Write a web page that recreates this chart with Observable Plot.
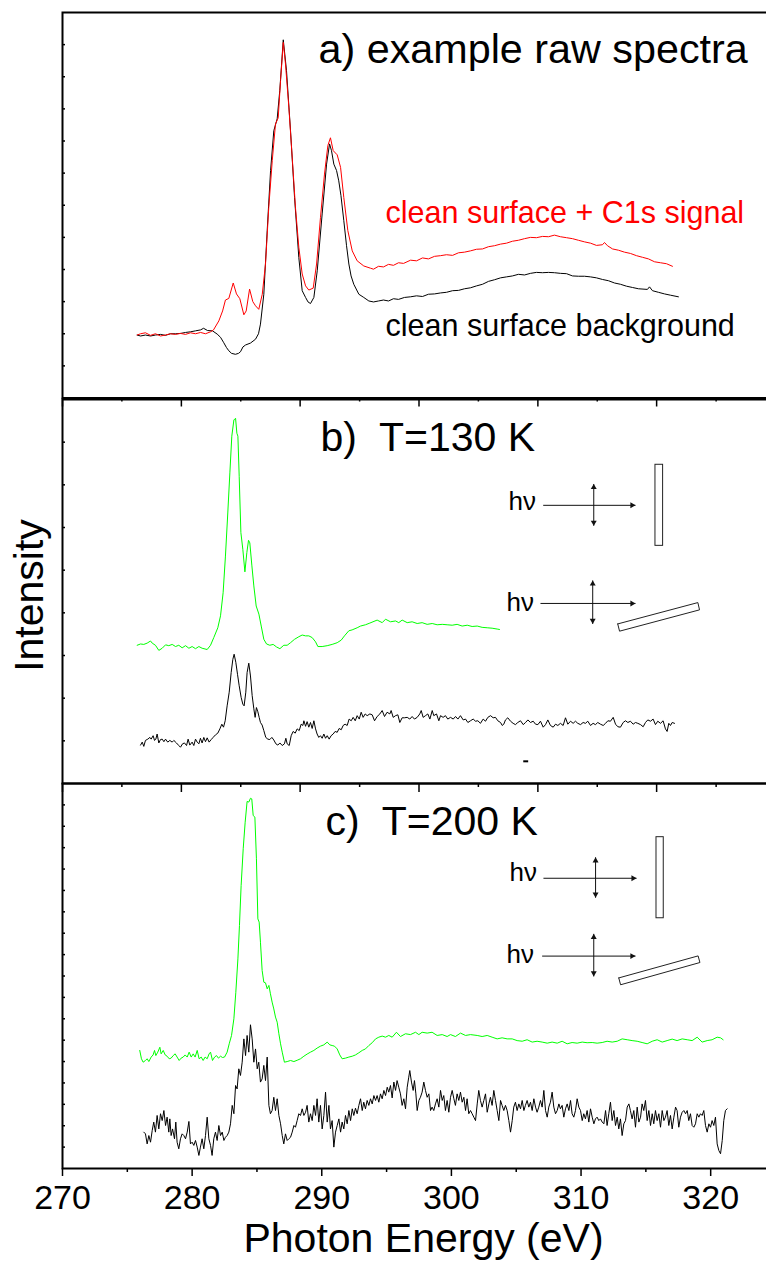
<!DOCTYPE html>
<html>
<head>
<meta charset="utf-8">
<script src="https://cdn.jsdelivr.net/npm/d3@7"></script>
<script src="https://cdn.jsdelivr.net/npm/@observablehq/plot@0.6"></script>
<style>
  html, body { margin: 0; padding: 0; background: #fff; overflow: hidden; }
  #chart { position: relative; width: 766px; height: 1261px; overflow: hidden; }
  #chart svg { position: absolute; left: 0; top: 0; max-width: none; }
  #chart text { white-space: pre; }
</style>
</head>
<body>
<div id="chart"></div>
<script>
// ---------- spectra: [photon energy (eV), intensity (arb. units)] ----------

// a) raw spectra, clean surface + C1s signal
const aSignal = [[275.76,1.96],[276.02,2.00],[276.40,2.03],[276.79,1.95],[277.17,2.00],[277.56,1.93],[277.94,1.96],[278.33,2.00],[278.71,1.98],[279.10,2.01],[279.49,1.98],[279.87,2.03],[280.26,2.00],[280.65,2.04],[281.03,2.00],[281.42,2.06],[281.65,2.12],[282.06,2.40],[282.35,2.71],[282.57,3.05],[282.83,3.10],[283.17,3.58],[283.42,3.24],[283.68,3.09],[283.99,2.59],[284.17,2.71],[284.43,3.39],[284.68,3.00],[284.89,2.87],[285.14,2.76],[285.41,3.23],[285.66,4.17],[285.91,5.93],[286.18,7.39],[286.43,8.53],[286.64,8.72],[286.82,9.88],[287.03,11.07],[287.20,10.40],[287.46,9.05],[287.72,7.49],[287.97,5.93],[288.23,4.69],[288.49,3.86],[288.75,3.49],[289.00,3.36],[289.34,3.42],[289.60,4.17],[289.90,5.62],[290.21,6.97],[290.47,7.86],[290.67,8.10],[290.88,7.70],[291.19,7.57],[291.45,7.18],[291.70,6.24],[292.01,5.21],[292.35,4.58],[292.73,4.27],[293.24,4.11],[293.76,4.04],[293.99,4.01],[294.38,4.10],[294.76,4.08],[295.15,4.16],[295.53,4.13],[295.92,4.21],[296.31,4.19],[296.85,4.29],[297.31,4.27],[297.77,4.36],[298.23,4.33],[298.70,4.41],[299.16,4.43],[299.62,4.46],[300.09,4.44],[300.55,4.52],[301.01,4.54],[301.47,4.58],[301.94,4.63],[302.40,4.64],[302.86,4.71],[303.32,4.74],[303.79,4.79],[304.25,4.82],[304.71,4.88],[305.17,4.91],[305.64,4.96],[306.10,5.00],[306.56,4.99],[307.03,5.03],[307.49,5.02],[307.95,5.07],[308.41,5.02],[308.88,4.99],[309.34,4.96],[309.80,4.91],[310.27,4.86],[310.73,4.82],[311.19,4.75],[311.65,4.77],[311.81,4.84],[312.04,4.74],[312.43,4.64],[312.89,4.60],[313.35,4.54],[313.81,4.50],[314.28,4.43],[314.74,4.38],[315.20,4.33],[315.67,4.24],[316.13,4.21],[316.59,4.18],[317.05,4.10]];

// a) raw spectra, clean surface background
const aBackground = [[275.76,1.96],[276.02,1.93],[276.40,1.96],[276.79,1.93],[277.17,1.96],[277.56,1.98],[277.94,1.95],[278.33,2.00],[278.71,2.00],[279.10,2.01],[279.49,2.04],[279.87,2.06],[280.26,2.09],[280.65,2.12],[280.88,2.17],[281.19,2.10],[281.57,2.09],[281.93,1.99],[282.19,1.89],[282.44,1.72],[282.65,1.57],[282.83,1.47],[283.04,1.39],[283.34,1.36],[283.58,1.39],[283.73,1.44],[283.92,1.59],[284.12,1.65],[284.50,1.71],[284.89,1.83],[285.12,2.00],[285.27,2.30],[285.53,3.23],[285.79,5.21],[286.05,7.08],[286.30,8.32],[286.56,8.69],[286.76,9.57],[287.03,11.15],[287.28,10.19],[287.59,8.32],[287.90,6.24],[288.23,4.37],[288.49,3.34],[288.75,3.13],[288.94,2.99],[289.13,2.94],[289.39,3.13],[289.65,3.96],[290.03,5.73],[290.37,7.28],[290.60,7.91],[290.75,7.70],[290.93,7.28],[291.14,7.08],[291.31,6.76],[291.48,6.30],[291.70,5.52],[291.91,4.74],[292.09,4.17],[292.26,3.80],[292.47,3.54],[292.86,3.23],[293.24,3.13],[293.63,3.02],[293.99,2.99],[294.38,3.02],[294.76,3.05],[295.15,3.02],[295.53,3.09],[295.92,3.07],[296.38,3.13],[296.85,3.15],[297.31,3.18],[297.77,3.16],[298.23,3.23],[298.70,3.24],[299.16,3.27],[299.62,3.29],[300.09,3.34],[300.55,3.35],[301.01,3.40],[301.47,3.43],[301.94,3.49],[302.40,3.54],[302.86,3.63],[303.32,3.68],[303.79,3.74],[304.25,3.77],[304.71,3.80],[305.17,3.85],[305.64,3.83],[306.10,3.88],[306.56,3.91],[307.03,3.90],[307.49,3.91],[307.95,3.90],[308.41,3.88],[308.88,3.87],[309.34,3.80],[309.80,3.79],[310.27,3.79],[310.73,3.77],[311.19,3.74],[311.65,3.69],[312.12,3.65],[312.58,3.58],[313.04,3.54],[313.51,3.48],[313.97,3.44],[314.43,3.40],[315.12,3.38],[315.28,3.46],[315.51,3.34],[315.97,3.29],[316.44,3.24],[316.90,3.20],[317.51,3.15]];

// b) T = 130 K
const bGreen = [[275.76,3.24],[276.02,3.27],[276.27,3.26],[276.53,3.29],[276.79,3.34],[276.92,3.29],[277.17,3.24],[277.43,3.12],[277.69,3.17],[277.95,3.25],[278.20,3.23],[278.46,3.26],[278.72,3.21],[278.97,3.24],[279.23,3.18],[279.49,3.23],[279.75,3.17],[280.00,3.21],[280.26,3.16],[280.52,3.21],[280.77,3.17],[281.16,3.14],[281.42,3.24],[281.67,3.42],[281.98,3.65],[282.19,3.93],[282.39,4.47],[282.57,5.33],[282.75,6.34],[282.91,7.28],[283.06,8.14],[283.22,8.52],[283.35,8.56],[283.45,8.21],[283.53,8.14],[283.63,7.20],[283.76,5.88],[283.91,5.49],[284.07,4.96],[284.22,5.41],[284.35,5.70],[284.45,5.64],[284.61,5.10],[284.76,4.63],[284.94,4.16],[285.15,3.97],[285.33,3.69],[285.53,3.38],[285.74,3.27],[285.99,3.24],[286.25,3.26],[286.51,3.20],[286.77,3.16],[287.07,3.24],[287.33,3.24],[287.59,3.30],[287.90,3.38],[288.23,3.44],[288.49,3.48],[288.75,3.46],[289.00,3.46],[289.26,3.42],[289.52,3.32],[289.70,3.21],[290.03,3.21],[290.42,3.23],[290.80,3.26],[291.19,3.30],[291.50,3.36],[291.75,3.46],[292.09,3.58],[292.34,3.60],[292.73,3.65],[292.99,3.69],[293.37,3.72],[293.71,3.76],[294.27,3.83],[294.66,3.77],[294.92,3.85],[295.30,3.79],[295.69,3.81],[295.94,3.77],[296.20,3.83],[296.59,3.77],[296.97,3.79],[297.36,3.75],[297.74,3.77],[298.13,3.73],[298.52,3.75],[298.90,3.72],[299.29,3.73],[299.67,3.72],[300.06,3.71],[300.44,3.73],[300.83,3.69],[301.22,3.71],[301.60,3.68],[301.99,3.69],[302.37,3.66],[302.76,3.65],[303.14,3.64],[303.53,3.62],[303.71,3.61]];

const bBlack = [[276.02,0.90],[276.15,0.97],[276.27,0.87],[276.40,1.01],[276.58,1.04],[276.74,1.08],[276.84,1.04],[276.99,1.12],[277.10,1.01],[277.20,1.04],[277.30,1.16],[277.43,0.95],[277.56,1.03],[277.69,1.04],[277.82,0.98],[277.95,1.04],[278.12,0.97],[278.28,1.01],[278.46,0.97],[278.59,1.01],[278.79,0.95],[278.97,0.89],[279.10,0.85],[279.26,0.93],[279.41,0.95],[279.57,0.89],[279.69,1.04],[279.82,0.90],[280.00,0.97],[280.13,0.89],[280.26,1.04],[280.39,0.97],[280.52,0.93],[280.64,1.06],[280.77,0.95],[280.90,1.08],[281.03,0.98],[281.16,1.07],[281.31,0.97],[281.47,1.03],[281.62,1.08],[281.80,1.14],[281.98,1.18],[282.14,1.28],[282.29,1.39],[282.42,1.32],[282.55,1.47],[282.70,1.82],[282.86,2.14],[283.01,2.60],[283.14,2.91],[283.24,3.03],[283.37,2.84],[283.50,2.56],[283.63,2.29],[283.78,2.02],[283.91,1.86],[284.01,1.82],[284.14,2.14],[284.24,2.60],[284.37,2.82],[284.50,2.52],[284.63,2.06],[284.76,1.75],[284.86,1.55],[284.96,1.78],[285.07,1.68],[285.17,1.55],[285.27,1.43],[285.40,1.37],[285.53,1.24],[285.68,1.08],[285.84,1.04],[285.99,1.03],[286.15,1.08],[286.30,1.02],[286.46,0.93],[286.61,0.90],[286.77,0.95],[286.95,0.89],[287.12,0.93],[287.23,1.06],[287.33,0.93],[287.49,0.89],[287.64,1.12],[287.79,1.22],[287.95,1.18],[288.10,1.28],[288.26,1.24],[288.41,1.39],[288.54,1.36],[288.62,1.47],[288.75,1.34],[288.87,1.45],[289.00,1.32],[289.13,1.43],[289.26,1.29],[289.39,1.47],[289.52,1.28],[289.64,1.16],[289.77,1.08],[289.90,1.12],[290.03,1.06],[290.16,1.16],[290.29,1.06],[290.42,1.12],[290.57,1.04],[290.72,1.12],[290.88,1.16],[291.03,1.22],[291.19,1.20],[291.34,1.29],[291.50,1.26],[291.65,1.36],[291.80,1.39],[291.96,1.36],[292.11,1.51],[292.27,1.47],[292.42,1.55],[292.58,1.47],[292.73,1.59],[292.89,1.51],[293.04,1.67],[293.19,1.55],[293.35,1.63],[293.50,1.59],[293.71,1.63],[293.89,1.61],[294.07,1.47],[294.27,1.57],[294.48,1.63],[294.66,1.71],[294.84,1.57],[295.04,1.67],[295.25,1.63],[295.35,1.71],[295.51,1.55],[295.69,1.59],[295.87,1.61],[296.02,1.43],[296.20,1.54],[296.38,1.54],[296.59,1.55],[296.79,1.51],[296.97,1.57],[297.15,1.51],[297.36,1.55],[297.56,1.63],[297.67,1.71],[297.82,1.55],[298.00,1.59],[298.18,1.63],[298.34,1.51],[298.52,1.71],[298.64,1.59],[298.85,1.63],[299.03,1.47],[299.16,1.59],[299.36,1.55],[299.54,1.59],[299.72,1.51],[299.93,1.55],[300.14,1.51],[300.32,1.57],[300.50,1.51],[300.70,1.59],[300.91,1.49],[301.09,1.51],[301.27,1.43],[301.47,1.47],[301.68,1.51],[301.86,1.46],[302.04,1.47],[302.24,1.41],[302.45,1.51],[302.63,1.46],[302.81,1.55],[303.02,1.59],[303.22,1.54],[303.40,1.55],[303.58,1.47],[303.79,1.43],[303.92,1.36],[304.04,1.39],[304.17,1.49],[304.35,1.54],[304.56,1.46],[304.76,1.41],[304.94,1.38],[305.12,1.43],[305.33,1.47],[305.54,1.38],[305.72,1.43],[305.90,1.49],[306.10,1.43],[306.31,1.46],[306.49,1.39],[306.67,1.38],[306.87,1.46],[307.08,1.32],[307.26,1.38],[307.44,1.49],[307.64,1.36],[307.85,1.32],[308.03,1.39],[308.21,1.36],[308.41,1.41],[308.62,1.36],[308.80,1.54],[308.98,1.39],[309.19,1.46],[309.39,1.41],[309.57,1.46],[309.75,1.41],[309.96,1.38],[310.16,1.43],[310.34,1.41],[310.52,1.46],[310.73,1.36],[310.93,1.41],[311.11,1.38],[311.29,1.43],[311.50,1.39],[311.71,1.36],[311.89,1.41],[312.07,1.47],[312.27,1.46],[312.48,1.55],[312.66,1.39],[312.84,1.33],[313.04,1.32],[313.25,1.43],[313.43,1.47],[313.61,1.43],[313.81,1.46],[314.02,1.39],[314.20,1.43],[314.38,1.41],[314.59,1.38],[314.79,1.33],[314.97,1.43],[315.15,1.49],[315.36,1.46],[315.56,1.51],[315.74,1.38],[315.92,1.46],[316.13,1.41],[316.33,1.47],[316.51,1.28],[316.64,1.22],[316.77,1.41],[316.90,1.36],[317.03,1.43],[317.21,1.41]];

// c) T = 200 K
const cGreen = [[275.96,5.52],[276.09,5.13],[276.22,4.97],[276.40,5.05],[276.53,5.13],[276.66,5.00],[276.84,5.21],[276.99,5.31],[277.10,5.52],[277.20,5.28],[277.35,5.44],[277.51,5.67],[277.61,5.36],[277.77,5.52],[277.92,5.31],[278.07,5.25],[278.23,5.13],[278.38,5.16],[278.54,5.28],[278.69,5.36],[278.84,5.21],[279.00,5.05],[279.15,5.16],[279.31,5.21],[279.46,5.31],[279.62,5.21],[279.77,5.44],[279.93,5.21],[280.08,5.36],[280.23,5.21],[280.39,5.52],[280.54,5.13],[280.70,5.21],[280.85,5.05],[281.00,5.21],[281.16,5.13],[281.31,5.36],[281.42,5.44],[281.57,5.05],[281.73,5.21],[281.88,5.28],[282.03,5.16],[282.19,5.25],[282.34,5.19],[282.50,5.21],[282.70,5.44],[282.86,5.83],[283.04,6.22],[283.22,7.00],[283.37,8.24],[283.53,9.80],[283.65,11.36],[283.78,13.23],[283.94,14.95],[284.09,16.19],[284.24,17.16],[284.37,17.13],[284.50,17.31],[284.60,17.28],[284.71,16.50],[284.84,16.43],[284.96,14.48],[285.07,11.67],[285.17,11.52],[285.27,10.58],[285.40,9.26],[285.53,8.71],[285.66,8.68],[285.79,8.40],[285.92,8.56],[286.04,8.17],[286.17,7.78],[286.30,7.46],[286.43,7.08],[286.56,6.84],[286.69,6.30],[286.82,5.83],[286.95,5.44],[287.12,4.97],[287.33,5.00],[287.59,5.05],[287.85,5.00],[288.10,5.06],[288.36,5.13],[288.62,5.25],[288.87,5.35],[289.13,5.44],[289.39,5.52],[289.64,5.63],[289.90,5.72],[290.16,5.78],[290.42,5.91],[290.62,5.78],[290.80,5.75],[290.98,5.72],[291.19,5.59],[291.39,5.31],[291.57,5.13],[291.83,5.16],[292.09,5.21],[292.35,5.25],[292.60,5.31],[292.86,5.41],[293.12,5.52],[293.37,5.59],[293.63,5.75],[293.89,5.88],[294.15,6.06],[294.40,6.14],[294.66,6.19],[294.92,6.14],[295.17,6.22],[295.43,6.14],[295.76,6.37],[296.07,6.17],[296.46,6.30],[296.84,6.26],[297.23,6.37],[297.49,6.26],[297.74,6.37],[298.13,6.33],[298.51,6.37],[298.90,6.22],[299.29,6.26],[299.67,6.17],[299.93,6.26],[300.31,6.17],[300.70,6.33],[301.09,6.22],[301.47,6.26],[301.99,6.22],[302.37,6.17],[302.76,6.22],[303.14,6.14],[303.53,6.06],[303.91,6.11],[304.30,6.06],[304.69,6.06],[305.07,5.98],[305.46,5.95],[305.84,6.02],[306.23,5.91],[306.61,5.95],[307.00,5.91],[307.39,5.86],[307.77,5.91],[308.16,5.86],[308.54,5.95],[308.93,5.83],[309.31,5.89],[309.70,5.86],[310.09,5.91],[310.47,5.88],[310.86,5.89],[311.24,5.86],[311.63,5.89],[312.01,5.95],[312.40,5.91],[312.79,5.95],[313.17,6.06],[313.56,6.02],[313.94,5.98],[314.33,5.95],[314.71,5.89],[315.10,5.83],[315.49,5.95],[315.87,6.02],[316.26,5.91],[316.64,5.98],[317.03,6.05],[317.41,5.98],[317.80,6.06],[318.19,6.02],[318.57,5.98],[318.96,6.14],[319.34,5.91],[319.73,5.98],[320.11,6.02],[320.50,6.14],[320.76,6.11],[320.96,6.02]];

const cBlack = [[276.27,1.70],[276.40,1.62],[276.53,1.15],[276.66,1.54],[276.79,1.23],[276.92,1.78],[277.04,2.17],[277.17,1.70],[277.30,2.48],[277.43,1.85],[277.56,2.56],[277.69,2.24],[277.82,2.71],[277.95,2.01],[278.07,2.40],[278.20,1.70],[278.28,2.32],[278.38,1.54],[278.49,1.85],[278.64,1.39],[278.74,2.17],[278.84,1.23],[278.97,0.92],[279.10,1.39],[279.23,1.62],[279.36,1.54],[279.49,1.39],[279.62,1.70],[279.75,2.20],[279.87,1.15],[280.00,1.23],[280.13,1.08],[280.26,1.31],[280.39,1.00],[280.52,0.61],[280.64,1.00],[280.77,1.39],[280.90,0.92],[281.03,1.54],[281.16,2.40],[281.29,1.39],[281.42,1.08],[281.54,0.61],[281.67,1.39],[281.80,1.70],[281.93,1.31],[282.06,2.01],[282.19,1.54],[282.32,1.70],[282.45,1.31],[282.57,1.46],[282.70,1.54],[282.83,1.70],[282.96,2.09],[283.09,2.95],[283.22,2.56],[283.35,3.88],[283.47,3.72],[283.60,4.66],[283.73,4.35],[283.86,4.97],[283.99,6.06],[284.12,5.28],[284.24,6.22],[284.37,5.44],[284.50,6.72],[284.63,6.06],[284.76,4.97],[284.89,5.59],[285.02,4.66],[285.14,4.97],[285.27,4.04],[285.40,4.19],[285.53,4.82],[285.66,4.11],[285.79,5.21],[285.92,2.95],[286.04,2.56],[286.17,2.71],[286.30,3.33],[286.43,2.71],[286.56,3.26],[286.69,2.48],[286.82,2.09],[286.95,1.54],[287.07,1.15],[287.20,1.62],[287.33,1.31],[287.46,1.39],[287.59,1.46],[287.72,1.70],[287.85,2.01],[287.97,1.93],[288.10,2.24],[288.23,2.56],[288.36,2.48],[288.49,2.79],[288.62,2.48],[288.75,2.63],[288.87,2.95],[289.00,2.17],[289.13,2.56],[289.26,2.24],[289.39,2.95],[289.52,2.48],[289.64,3.26],[289.77,2.17],[289.90,2.95],[290.03,1.85],[290.16,2.48],[290.29,3.57],[290.42,2.17],[290.55,2.95],[290.67,1.85],[290.80,2.24],[290.93,1.00],[291.06,1.70],[291.19,2.01],[291.32,2.32],[291.45,1.70],[291.57,2.17],[291.70,1.85],[291.83,2.48],[291.96,2.09],[292.09,2.71],[292.22,2.24],[292.35,2.79],[292.47,2.48],[292.60,2.82],[292.73,2.56],[292.86,2.95],[292.99,3.26],[293.12,2.71],[293.24,3.10],[293.37,2.79],[293.50,3.18],[293.63,2.95],[293.76,3.26],[293.89,3.02],[294.02,3.41],[294.15,3.18],[294.27,3.41],[294.40,3.10],[294.53,3.49],[294.66,3.26],[294.79,3.65],[294.92,3.41],[295.05,3.80],[295.17,3.57],[295.30,3.88],[295.43,3.30],[295.56,4.04],[295.69,3.65],[295.81,4.11],[295.94,3.80],[296.07,3.49],[296.20,2.95],[296.33,3.26],[296.46,2.79],[296.59,3.80],[296.71,4.27],[296.79,4.58],[296.92,4.04],[297.05,3.65],[297.15,4.11],[297.26,3.49],[297.36,2.71],[297.49,3.18],[297.61,3.33],[297.74,3.57],[297.87,4.04],[298.00,3.65],[298.13,3.33],[298.26,3.49],[298.39,2.71],[298.51,2.87],[298.64,2.71],[298.77,3.02],[298.90,3.26],[299.03,2.87],[299.16,3.65],[299.29,3.18],[299.41,3.41],[299.54,2.71],[299.67,3.18],[299.80,2.63],[299.93,3.33],[300.06,3.65],[300.19,3.26],[300.31,2.95],[300.44,3.49],[300.57,3.18],[300.70,3.57],[300.83,3.10],[300.96,3.33],[301.09,2.71],[301.21,3.26],[301.34,2.56],[301.47,2.71],[301.60,2.56],[301.73,2.40],[301.86,2.24],[301.99,3.02],[302.11,3.65],[302.24,3.18],[302.37,2.87],[302.50,3.18],[302.63,3.49],[302.76,2.63],[302.89,3.02],[303.01,3.33],[303.14,2.95],[303.27,3.65],[303.40,3.18],[303.53,2.71],[303.66,2.24],[303.79,3.18],[303.91,2.95],[304.04,2.71],[304.17,2.95],[304.30,2.71],[304.43,2.24],[304.56,1.70],[304.69,2.24],[304.81,2.87],[304.94,3.10],[305.07,2.71],[305.20,3.02],[305.33,2.79],[305.46,3.18],[305.59,2.71],[305.71,2.95],[305.84,3.18],[305.97,2.87],[306.10,3.10],[306.23,2.71],[306.36,3.26],[306.49,2.87],[306.61,2.63],[306.74,2.87],[306.87,3.18],[307.00,2.87],[307.13,3.65],[307.26,2.71],[307.39,2.40],[307.51,2.87],[307.64,3.10],[307.77,3.57],[307.90,2.87],[308.03,2.56],[308.16,2.71],[308.29,3.02],[308.41,2.79],[308.54,2.95],[308.67,2.40],[308.80,2.79],[308.93,3.02],[309.06,2.71],[309.19,3.18],[309.31,2.56],[309.44,2.40],[309.57,2.71],[309.70,3.26],[309.83,2.87],[309.96,2.71],[310.09,2.24],[310.21,2.56],[310.34,2.32],[310.47,2.71],[310.60,2.17],[310.73,2.79],[310.86,2.40],[310.99,2.09],[311.11,2.32],[311.24,2.40],[311.37,2.24],[311.50,2.32],[311.63,2.17],[311.76,2.09],[311.89,2.71],[312.01,2.01],[312.14,2.56],[312.27,3.10],[312.40,2.24],[312.53,2.71],[312.66,2.01],[312.79,2.40],[312.91,1.85],[313.04,2.32],[313.17,1.54],[313.30,2.09],[313.43,2.24],[313.56,2.87],[313.69,3.02],[313.81,2.71],[313.94,2.32],[314.07,2.71],[314.20,1.93],[314.33,2.87],[314.46,2.17],[314.59,2.40],[314.71,3.02],[314.84,2.71],[314.97,3.18],[315.10,2.24],[315.23,2.71],[315.36,2.01],[315.49,2.56],[315.61,2.09],[315.74,2.71],[315.87,2.24],[316.00,2.56],[316.13,1.93],[316.26,2.71],[316.39,2.24],[316.51,2.40],[316.64,2.71],[316.77,2.01],[316.90,2.48],[317.03,1.85],[317.16,2.40],[317.29,2.87],[317.41,2.71],[317.54,1.93],[317.67,2.40],[317.80,2.63],[317.93,2.71],[318.06,2.56],[318.19,2.71],[318.31,2.24],[318.44,2.56],[318.57,2.01],[318.70,1.93],[318.83,2.09],[318.96,2.56],[319.09,2.40],[319.21,2.56],[319.34,2.48],[319.47,2.71],[319.60,2.01],[319.73,1.70],[319.86,2.09],[319.99,1.93],[320.11,2.24],[320.24,2.01],[320.37,2.40],[320.50,1.15],[320.63,0.84],[320.76,0.69],[320.89,1.31],[321.01,2.24],[321.14,2.71],[321.27,2.79]];

// ---------- axes ----------
const xDomain = [270, 325];
const xTickLabels = [270, 280, 290, 300, 310, 320];
const xMinorTicks = [275, 285, 295, 305, 315, 325];
// the upper panels carry an unlabeled 12-division scale along their lower edges
const panelMajorTicks = [270, 279.17, 288.33, 297.5, 306.67, 315.83, 325];
const panelMinorTicks = [274.58, 283.75, 292.92, 302.08, 311.25, 320.42];
const aYTicks = [1, 2, 3, 4, 5, 6, 7, 8, 9, 10, 11];
const bYTicks = [1, 2, 3, 4, 5, 6, 7, 8];
const cYTicks = [1, 2, 3, 4, 5, 6, 7, 8, 9, 10, 11, 12, 13, 14, 15, 16, 17];

// ---------- annotations ----------
const aTitle = [{x: 289.75, y: 10.44, text: "a) example raw spectra"}];
const aLegend = [
  {x: 294.92, y: 5.46, text: "clean surface + C1s signal", color: "#ff0000"},
  {x: 294.92, y: 1.93, text: "clean surface background", color: "#000000"}
];
const bTitle = [{x: 289.90, y: 7.80, text: "b)  T=130 K"}];
const cTitle = [{x: 290.29, y: 15.57, text: "c)  T=200 K"}];

// polarization / sample geometry sketches (energy, intensity coordinates)
const bSketch = {
  labels: [{x: 304.40, y: 6.40}, {x: 304.25, y: 4.05}],
  beams: [{x1: 307.08, x2: 314.20, y: 6.52}, {x1: 306.87, x2: 314.20, y: 4.22}],
  pol: [{x: 310.98, y1: 6.04, y2: 7.02}, {x: 310.90, y1: 3.74, y2: 4.76}],
  upright: {x1: 315.74, x2: 316.33, y1: 5.57, y2: 7.47},
  tilted: [[312.83, 3.74], [312.97, 3.57], [319.14, 4.07], [319.01, 4.24], [312.83, 3.74]]
};
const cSketch = {
  labels: [{x: 304.48, y: 13.46}, {x: 304.25, y: 9.60}],
  beams: [{x1: 307.10, x2: 314.28, y: 13.57}, {x1: 307.00, x2: 314.20, y: 9.93}],
  pol: [{x: 311.12, y1: 12.66, y2: 14.55}, {x: 310.98, y1: 8.98, y2: 10.97}],
  upright: {x1: 315.82, x2: 316.38, y1: 11.70, y2: 15.49},
  tilted: [[312.91, 8.91], [313.05, 8.59], [319.17, 9.63], [319.03, 9.94], [312.91, 8.91]]
};
const bMarker = [{x1: 305.58, x2: 305.96, y: 0.52}];

// ---------- drawing ----------
const W = 766, H = 1261;
const FONT = "'Liberation Sans', Arial, Helvetica, sans-serif";

function panel(top, bottom, yMax, marks) {
  return Plot.plot({
    width: W, height: H,
    marginLeft: 62, marginRight: -9, marginTop: top, marginBottom: H - bottom,
    x: {domain: xDomain, axis: null},
    y: {domain: [0, yMax], axis: null},
    style: {fontFamily: FONT, background: "none", color: "black", overflow: "visible"},
    marks
  });
}

const leftTicks = (values) => Plot.axisY(values, {
  anchor: "left", tickSize: 3, dx: 3, tickFormat: () => "", label: null, strokeWidth: 1.5
});
const bottomTicks = (values, size) => Plot.axisX(values, {
  anchor: "bottom", tickSize: size, tickFormat: () => "", label: null, strokeWidth: 1.5
});
const spectrum = (data, color) => Plot.line(data, {
  x: d => d[0], y: d => d[1], stroke: color, strokeWidth: 1
});

function sketch(s) {
  return [
    Plot.text(s.labels, {x: "x", y: "y", text: () => "h\u03bd", textAnchor: "start", lineAnchor: "bottom", fontSize: 26, fill: "black"}),
    Plot.link(s.beams, {x1: "x1", x2: "x2", y1: "y", y2: "y", stroke: "#111", strokeWidth: 1}),
    Plot.dot(s.beams, {x: "x2", y: "y", symbol: "triangle", rotate: 90, r: 2.2, fill: "#111", dx: -3.4}),
    Plot.link(s.pol, {x1: "x", x2: "x", y1: "y1", y2: "y2", stroke: "#111", strokeWidth: 1}),
    Plot.dot(s.pol, {x: "x", y: "y2", symbol: "triangle", r: 2.2, fill: "#111", dy: 3.4}),
    Plot.dot(s.pol, {x: "x", y: "y1", symbol: "triangle", rotate: 180, r: 2.2, fill: "#111", dy: -3.4}),
    Plot.rect([s.upright], {x1: "x1", x2: "x2", y1: "y1", y2: "y2", fill: "white", stroke: "#222", strokeWidth: 1}),
    Plot.line(s.tilted, {x: d => d[0], y: d => d[1], stroke: "#222", strokeWidth: 1})
  ];
}

const panelA = panel(12, 397.5, 12, [
  leftTicks(aYTicks),
  bottomTicks(panelMajorTicks, 9),
  bottomTicks(panelMinorTicks, 4),
  spectrum(aBackground, "#000000"),
  spectrum(aSignal, "#ff0000"),
  Plot.text(aTitle, {x: "x", y: "y", text: "text", textAnchor: "start", lineAnchor: "bottom", fontSize: 41.3, fill: "black"}),
  Plot.text(aLegend, {x: "x", y: "y", text: "text", textAnchor: "start", lineAnchor: "bottom", fontSize: 30.5, fill: "color"}),
  Plot.frame({stroke: "black", strokeWidth: 2})
]);

const panelB = panel(399, 783, 9, [
  leftTicks(bYTicks),
  bottomTicks(panelMajorTicks, 9),
  bottomTicks(panelMinorTicks, 4),
  spectrum(bGreen, "#00ff00"),
  spectrum(bBlack, "#000000"),
  ...sketch(bSketch),
  Plot.ruleY(bMarker, {x1: "x1", x2: "x2", y: "y", stroke: "black", strokeWidth: 2}),
  Plot.text(bTitle, {x: "x", y: "y", text: "text", textAnchor: "start", lineAnchor: "bottom", fontSize: 41, fill: "black"}),
  Plot.text(["Intensity"], {frameAnchor: "left", textAnchor: "middle", rotate: -90, dx: -20, dy: 4, lineAnchor: "bottom", fontSize: 41, fill: "black"}),
  Plot.frame({stroke: "black", strokeWidth: 2})
]);

const panelC = panel(783, 1168, 18, [
  leftTicks(cYTicks),
  bottomTicks(xTickLabels, 8),
  bottomTicks(xMinorTicks, 4),
  spectrum(cGreen, "#00ff00"),
  spectrum(cBlack, "#000000"),
  ...sketch(cSketch),
  Plot.text(cTitle, {x: "x", y: "y", text: "text", textAnchor: "start", lineAnchor: "bottom", fontSize: 41, fill: "black"}),
  Plot.text(xTickLabels, {x: d => d, frameAnchor: "bottom", dy: 40, lineAnchor: "bottom", text: d => String(d), fontSize: 34, fill: "black"}),
  Plot.text(["Photon Energy (eV)"], {frameAnchor: "bottom", textAnchor: "middle", dx: 4.5, dy: 83, lineAnchor: "bottom", fontSize: 41, fill: "black"}),
  Plot.frame({stroke: "black", strokeWidth: 2})
]);

document.getElementById("chart").append(panelA, panelB, panelC);
</script>
</body>
</html>
